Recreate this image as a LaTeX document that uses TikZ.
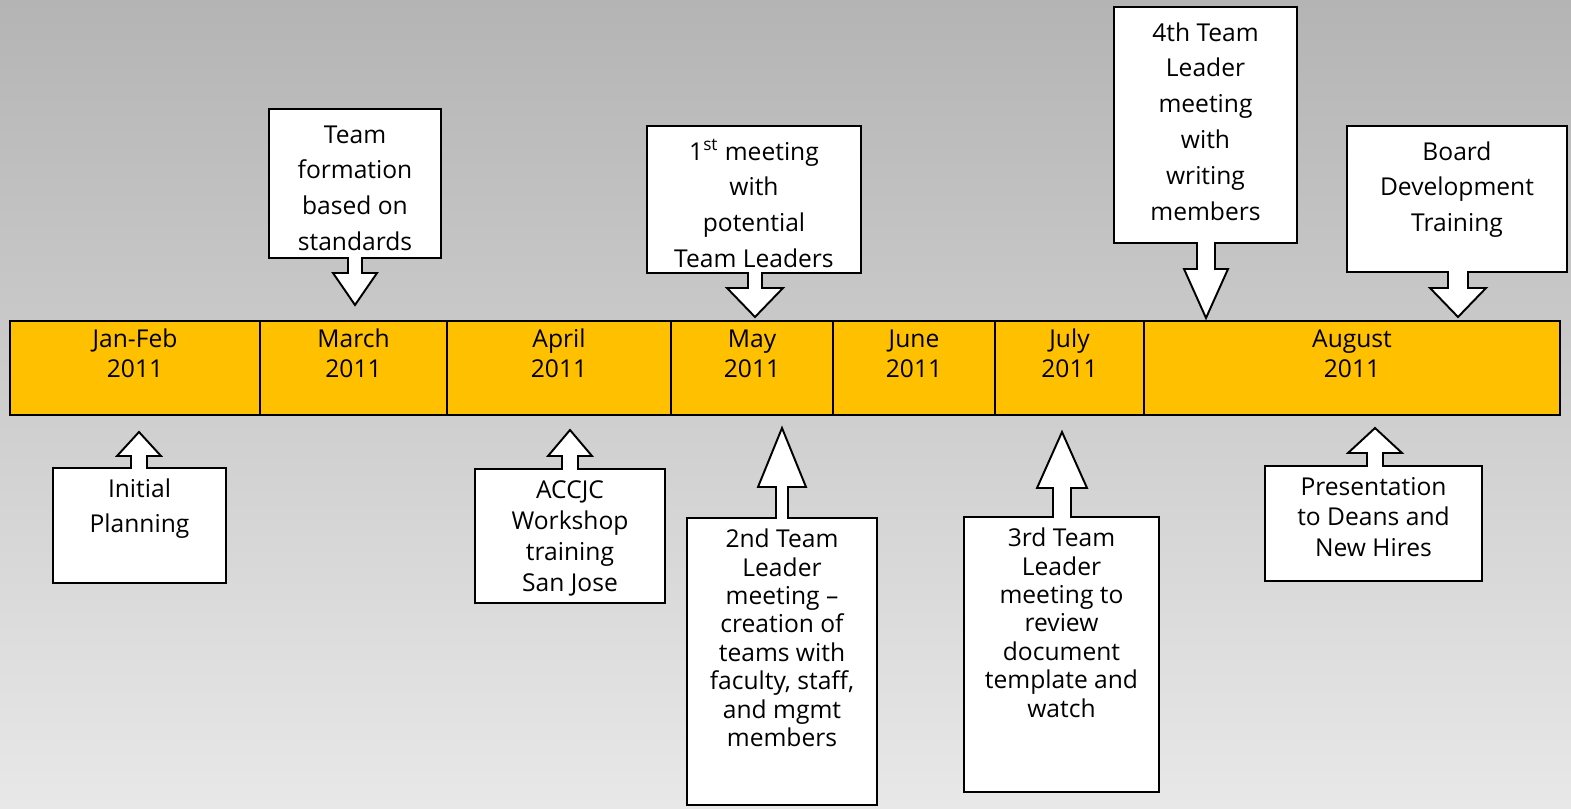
\documentclass[tikz,border=0pt]{standalone}
\usepackage{fontspec}
\setmainfont{Open Sans}
\usepackage{xcolor}
\usepackage{tikz}
\definecolor{bgtop}{RGB}{180,180,180}
\definecolor{bgbot}{RGB}{232,232,232}
\definecolor{baryellow}{RGB}{255,192,0}
\tikzset{
  callbox/.style={draw=black,fill=white,line width=1.1pt,line join=miter},
  barcell/.style={draw=black,fill=baryellow,line width=1.2pt},
  bartext/.style={anchor=north,align=center,inner sep=0pt,
                  font=\fontsize{14}{17.6}\selectfont},
  uptext/.style={anchor=north,align=center,inner sep=0pt,
                 font=\fontsize{14}{20.4}\selectfont},
}

\begin{document}
\begin{tikzpicture}[x=0.02cm,y=-0.02cm]
\useasboundingbox (0,0) rectangle (1571,808);
\shade[top color=bgtop,bottom color=bgbot] (0,0) rectangle (1571,808);

% ============ the months bar ============
\foreach \xa/\xb/\mon [count=\i] in {10/260/Jan-Feb, 260/447/March, 447/671/April,
  671/833/May, 833/995/June, 995/1144/July, 1144/1560/August} {
  \draw[barcell] (\xa,321) rectangle (\xb,415);
  \node[bartext] (m\i) at ({(\xa+\xb)/2},325) {\strut\mon\\2011};
}

% ============ events above: box, arrow pointing down ============
\foreach \xa/\xb/\ya/\yb/\ax/\sw/\hw/\yh/\yt/\txt [count=\i] in {%
  269/441/109/258/355/7/22/273/305/{Team\\formation\\based on\\standards},
  647/861/126/273/755/7/28/288/317/{1\textsuperscript{st} meeting\\with\\potential\\Team Leaders},
  1114/1297/7/243/1206/9/22/269/318/{4th Team\\Leader\\meeting\\with\\writing\\members},
  1347/1567/126/272/1458/10/28/288/317/{Board\\Development\\Training}} {
  \draw[callbox] (\xa,\ya) -- (\xb,\ya) -- (\xb,\yb) -- ({\ax+\sw},\yb) -- ({\ax+\sw},\yh)
    -- ({\ax+\hw},\yh) -- (\ax,\yt) -- ({\ax-\hw},\yh) -- ({\ax-\sw},\yh)
    -- ({\ax-\sw},\yb) -- (\xa,\yb) -- cycle;
  \node[uptext] (ev\i) at ({(\xa+\xb)/2},{\ya+8.6}) {\strut\txt};
}

% ============ events below: box, arrow pointing up ============
\foreach \xa/\xb/\ya/\yb/\ax/\sw/\hw/\yh/\yt/\ls/\txt [count=\i] in {%
  53/226/468/583/139/8/22/456/432/19.8/{Initial\\Planning},
  475/665/469/603/570/8/22/456/430/17.6/{ACCJC\\Workshop\\training\\San Jose},
  687/877/518/805/782/6/24/487/428/16.2/{2nd Team\\Leader\\meeting --\\creation of\\teams with\\faculty, staff,\\and mgmt\\members},
  964/1159/517/792/1062/9/25/488/432/16.2/{3rd Team\\Leader\\meeting to\\review\\document\\template and\\watch},
  1265/1482/466/581/1375/8/27/453/428/17.3/{Presentation\\to Deans and\\New Hires}} {
  \draw[callbox] (\xa,\yb) -- (\xb,\yb) -- (\xb,\ya) -- ({\ax+\sw},\ya) -- ({\ax+\sw},\yh)
    -- ({\ax+\hw},\yh) -- (\ax,\yt) -- ({\ax-\hw},\yh) -- ({\ax-\sw},\yh)
    -- ({\ax-\sw},\ya) -- (\xa,\ya) -- cycle;
  \node[anchor=north,align=center,inner sep=0pt,font=\fontsize{14}{\ls}\selectfont]
    (lo\i) at ({(\xa+\xb)/2},{\ya+29.3-0.7*\ls/0.5669}) {\strut\txt};
}
\end{tikzpicture}
\end{document}
